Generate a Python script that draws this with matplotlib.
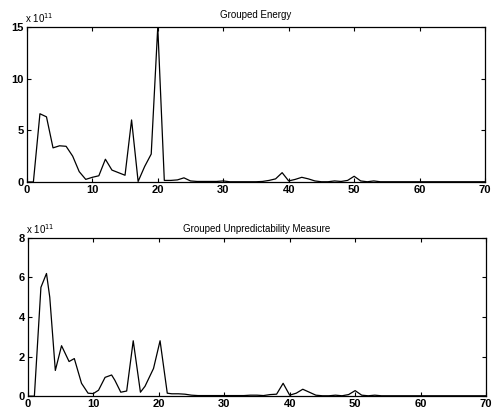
import numpy as np
import matplotlib
matplotlib.use("Agg")
import matplotlib.pyplot as plt

plt.rcParams['font.family'] = ['Liberation Sans', 'DejaVu Sans']

# Grouped energy (x 10^11), one value per group 0..70
energy_x = list(range(71))
energy = [0, 0, 6.6, 6.3, 3.3, 3.5, 3.45, 2.5, 1.0, 0.25,
          0.45, 0.6, 2.2, 1.15, 0.9, 0.65, 6.0, 0.05, 1.5, 2.7,
          15.0, 0.15, 0.15, 0.2, 0.4, 0.1, 0.05, 0.05, 0.05, 0.05,
          0.1, 0.02, 0.02, 0.02, 0.02, 0.02, 0.05, 0.15, 0.3, 0.9,
          0.1, 0.25, 0.45, 0.3, 0.1, 0.02, 0.02, 0.1, 0.05, 0.15,
          0.55, 0.1, 0.02, 0.1, 0.02, 0.02, 0.02, 0.02, 0.02, 0.02,
          0.02, 0.02, 0.02, 0.02, 0.02, 0.02, 0.02, 0.02, 0.02, 0.02,
          0.02]

# Grouped unpredictability measure (x 10^11)
unpred_x = [0, 1, 2, 2.85, 3.35, 4.2, 5.15, 6.3, 7.1, 8.2, 9.2, 10, 10.8,
            11.8, 12.8, 13.3, 14.2, 15.1, 16.1, 17.2, 17.9, 19.2, 20.2,
            21.3] + list(range(22, 71))
unpred = [0, 0, 5.5, 6.2, 5.0, 1.3, 2.55, 1.75, 1.9, 0.65, 0.15, 0.13, 0.3,
          0.95, 1.07, 0.8, 0.2, 0.26, 2.8, 0.2, 0.5, 1.4, 2.8,
          0.15,
          0.12, 0.12, 0.1, 0.05, 0.03, 0.03, 0.03, 0.03, 0.03, 0.03,
          0.03, 0.03, 0.05, 0.05, 0.03, 0.08, 0.1, 0.65, 0.05, 0.15,
          0.35, 0.2, 0.05, 0.02, 0.02, 0.05, 0.02, 0.08, 0.28, 0.05,
          0.02, 0.05, 0.02, 0.02, 0.02, 0.02, 0.02, 0.02, 0.02, 0.02,
          0.02, 0.02, 0.02, 0.02, 0.02, 0.02, 0.02, 0.02, 0.02]

panels = [
    (energy_x, energy, "Grouped Energy", [0, 5, 10, 15], 15, 6.5),
    (unpred_x, unpred, "Grouped Unpredictability Measure", [0, 2, 4, 6, 8], 8, 4.5),
]

fig = plt.figure(figsize=(4.97, 4.08), dpi=100)
boxes = [[0.054, 0.554, 0.922, 0.380], [0.056, 0.029, 0.922, 0.388]]

for box, (xs, ys, title, yticks, ymax, tpad) in zip(boxes, panels):
    ax = fig.add_axes(box)
    ax.plot(xs, ys, color='black', lw=0.9)
    ax.set_xlim(0, 70)
    ax.set_ylim(0, ymax)
    ax.set_xticks(range(0, 71, 10))
    ax.set_yticks(yticks)
    ax.tick_params(direction='in', top=True, right=True, length=3,
                   width=0.8, labelsize=8, pad=2)
    for lab in ax.get_xticklabels() + ax.get_yticklabels():
        lab.set_fontweight('bold')
    for s in ax.spines.values():
        s.set_linewidth(0.9)
    ax.set_title(title, fontsize=7, pad=tpad)
    ax.text(-0.005, 1.01, r'x 10$^{11}$', transform=ax.transAxes,
            fontsize=7, ha='left', va='bottom')

fig.savefig("out.png", dpi=100)
